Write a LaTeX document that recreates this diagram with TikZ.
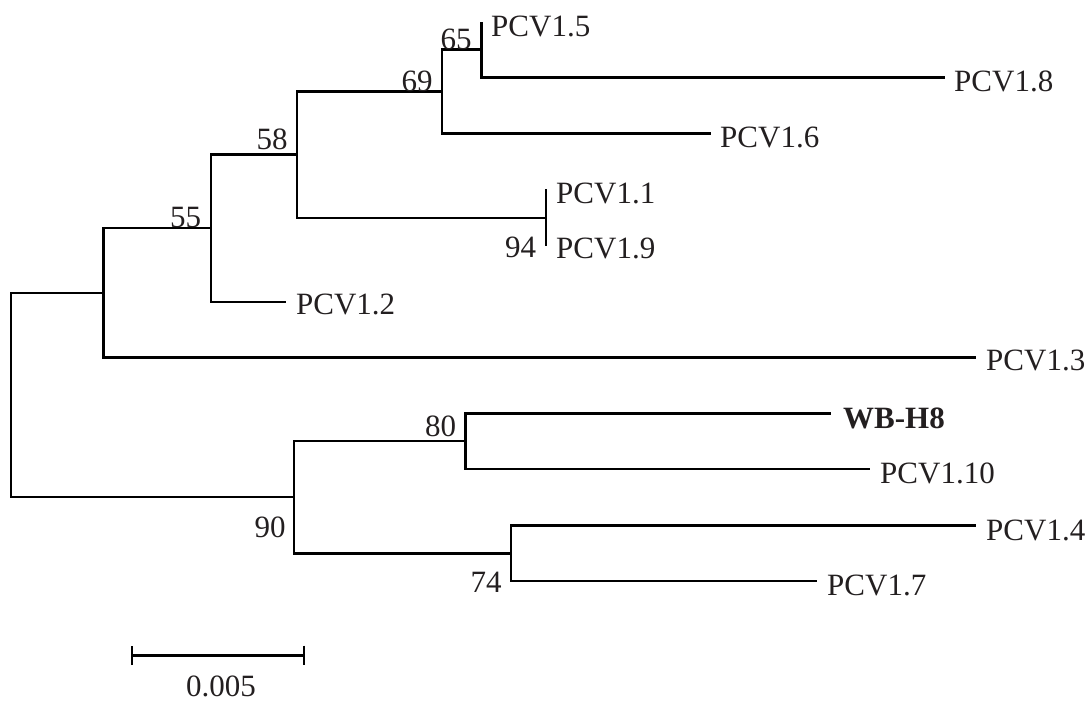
\documentclass[tikz,border=0pt]{standalone}
\usepackage{fontspec}
\setmainfont{Liberation Serif}
\usetikzlibrary{arrows.meta}
\definecolor{ink}{RGB}{35,31,32}
\begin{document}
\begin{tikzpicture}[x=1pt,y=-1pt,
  branch/.style={draw=black,line width=2.4pt,line join=miter},
  leaflabel/.style={anchor=west,inner sep=0pt,text=ink,font=\fontsize{31}{36}\selectfont},
  boot/.style={anchor=center,inner sep=0pt,text=ink,font=\fontsize{31}{36}\selectfont}]
\useasboundingbox (0,0) rectangle (1092,702);
% internal nodes
\coordinate (root) at (10.7,395);
\coordinate (A) at (103.6,292.7);
\coordinate (B) at (210.7,228);
\coordinate (C) at (296.8,154.3);
\coordinate (D) at (442,91.3);
\coordinate (E) at (481.4,49.5);
\coordinate (F) at (545.7,217.7);
\coordinate (G) at (294,497);
\coordinate (H) at (465.4,441.2);
\coordinate (I) at (510.7,553.3);
% leaves
\coordinate (l5) at (481.4,21.7);
\coordinate (l8) at (945,77.3);
\coordinate (l6) at (711,133.3);
\coordinate (l1) at (545.7,189.3);
\coordinate (l9) at (545.7,246);
\coordinate (l2) at (285.7,301.7);
\coordinate (l3) at (976.4,357.3);
\coordinate (lwb) at (831,413.3);
\coordinate (l10) at (870,469);
\coordinate (l4) at (976,525.3);
\coordinate (l7) at (817,581);
% branches
\draw[branch] (root) |- (A);
\draw[branch] (root) |- (G);
\draw[branch] (A) |- (B);
\draw[branch] (A) |- (l3);
\draw[branch] (B) |- (C);
\draw[branch] (B) |- (l2);
\draw[branch] (C) |- (D);
\draw[branch] (C) |- (F);
\draw[branch] (D) |- (E);
\draw[branch] (D) |- (l6);
\draw[branch] (E) |- (l5);
\draw[branch] (E) |- (l8);
\draw[branch] (F) |- (l1);
\draw[branch] (F) |- (l9);
\draw[branch] (G) |- (H);
\draw[branch] (G) |- (I);
\draw[branch] (H) |- (lwb);
\draw[branch] (H) |- (l10);
\draw[branch] (I) |- (l4);
\draw[branch] (I) |- (l7);
% leaf labels
\node[leaflabel] (t5) at ([shift={(9.6,5)}]l5) {PCV1.5};
\node[leaflabel] (t8) at ([shift={(9,4.5)}]l8) {PCV1.8};
\node[leaflabel] (t6) at ([shift={(9,4)}]l6) {PCV1.6};
\node[leaflabel] (t1) at ([shift={(10.3,4)}]l1) {PCV1.1};
\node[leaflabel] (t9) at ([shift={(10.3,2.5)}]l9) {PCV1.9};
\node[leaflabel] (t2) at ([shift={(10.3,2.5)}]l2) {PCV1.2};
\node[leaflabel] (t3) at ([shift={(9.6,3)}]l3) {PCV1.3};
\node[leaflabel,font=\fontsize{31}{36}\selectfont\bfseries] (twb) at ([shift={(12,5)}]lwb) {WB-H8};
\node[leaflabel] (t10) at ([shift={(10,4)}]l10) {PCV1.10};
\node[leaflabel] (t4) at ([shift={(10,5)}]l4) {PCV1.4};
\node[leaflabel] (t7) at ([shift={(10,4)}]l7) {PCV1.7};
% bootstrap values
\node[boot] (b65) at (456,39) {65};
\node[boot] (b69) at (417,81) {69};
\node[boot] (b58) at (272,139) {58};
\node[boot] (b55) at (185.5,217) {55};
\node[boot] (b94) at (520.5,247) {94};
\node[boot] (b80) at (440.5,426) {80};
\node[boot] (b90) at (270,527.7) {90};
\node[boot] (b74) at (486,582.7) {74};
% scale bar
\coordinate (sb1) at (130.5,655.3);
\coordinate (sb2) at (305.4,655.3);
\draw[line width=2.4pt,{Bar[width=19.5pt,line width=2.4pt]}-{Bar[width=19.5pt,line width=2.4pt]}] (sb1) -- (sb2);
\node[boot] (sbl) at (221,686.5) {0.005};
\end{tikzpicture}
\end{document}
